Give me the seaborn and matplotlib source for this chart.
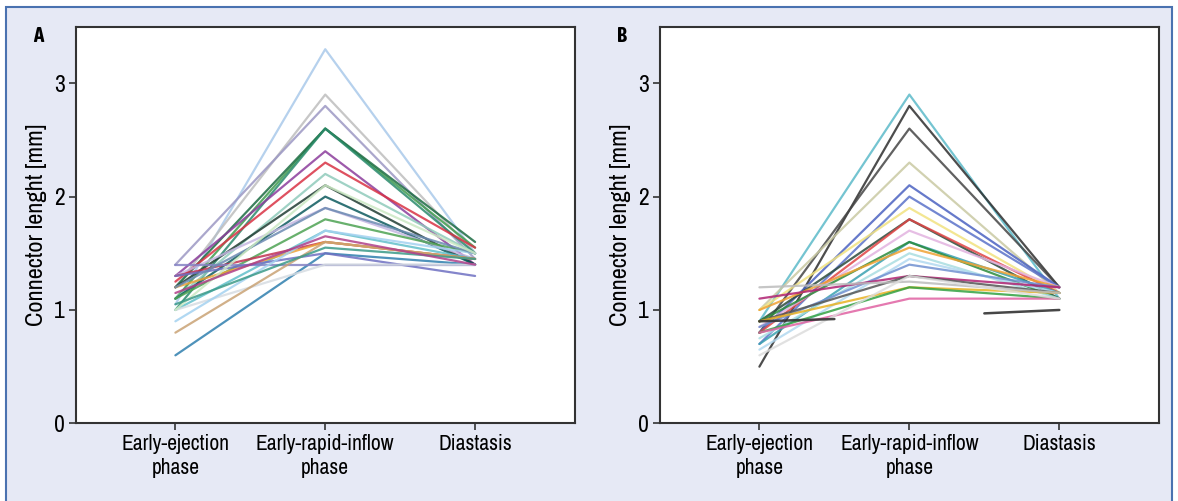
import matplotlib
matplotlib.use("Agg")
import matplotlib.pyplot as plt
from matplotlib import font_manager
from matplotlib.patches import Rectangle
import seaborn as sns
import pandas as pd

sns.set_theme(style="white")
fonts = font_manager.fontManager.ttflist
narrow = sorted({f.name for f in fonts if "Narrow" in f.name or "Condensed" in f.name})
base = narrow[0] if narrow else "Roboto"
bold_narrow = [n for n in narrow
               if any(f.name == n and f.weight in (600, 700, 800, "bold") for f in fonts)]
letter_font = bold_narrow[0] if bold_narrow else "DejaVu Sans"
plt.rcParams['font.family'] = [base, 'DejaVu Sans']

phases = ["Early-ejection\nphase", "Early-rapid-inflow\nphase", "Diastasis"]
phase_x = [0, 1, 2]

# panel A: one row per connector, values at the three phases
a_early = [1.05, 1.2, 1.4, 1.1, 1.2, 1.0, 1.3, 1.25, 1.1, 1.2, 1.1, 1.3, 1.1, 1.0,
           1.3, 1.2, 0.6, 1.4, 1.3, 1.0, 0.8, 0.9, 1.2, 1.0, 1.05, 1.15]
a_inflow = [3.3, 2.9, 2.8, 2.6, 2.6, 2.6, 2.4, 2.3, 2.2, 2.1, 2.0, 1.9, 1.8, 1.7,
            1.6, 1.6, 1.5, 1.4, 1.5, 1.4, 1.6, 1.7, 1.9, 2.1, 1.55, 1.65]
a_diast = [1.5, 1.5, 1.45, 1.55, 1.6, 1.5, 1.4, 1.55, 1.5, 1.4, 1.4, 1.45, 1.5, 1.45,
           1.45, 1.45, 1.4, 1.4, 1.3, 1.4, 1.45, 1.5, 1.5, 1.5, 1.45, 1.4]
a_colors = ["#a9c9ea", "#bdbdbd", "#9c98c4", "#3f9c4e", "#1b6b42", "#2a8a6c",
            "#8c3d9c", "#d93244", "#8fcbbb", "#203c32", "#0d5b5e", "#c5b6e2",
            "#4da353", "#62c0ca", "#c23252", "#eba237", "#2f7fae", "#8583c4",
            "#6f70c2", "#d6dce2", "#c9a274", "#a4d2f0", "#6c8bb2", "#cbe8c3",
            "#3b9a88", "#b0408a"]

# panel B
b_early = [0.9, 0.5, 0.8, 1.0, 0.8, 0.7, 1.0, 0.9, 0.8, 0.85, 0.7, 0.9, 1.0, 0.75,
           0.65, 0.85, 1.1, 0.9, 0.9, 0.8, 0.8, 1.2, 0.6]
b_inflow = [2.9, 2.8, 2.6, 2.3, 2.1, 2.0, 1.9, 1.8, 1.8, 1.7, 1.6, 1.6, 1.55, 1.5,
            1.45, 1.4, 1.3, 1.3, 1.2, 1.2, 1.1, 1.25, 1.3]
b_diast = [1.1, 1.2, 1.2, 1.15, 1.2, 1.2, 1.15, 1.1, 1.15, 1.2, 1.15, 1.1, 1.2, 1.1,
           1.15, 1.2, 1.2, 1.15, 1.15, 1.1, 1.1, 1.15, 1.1]
b_colors = ["#5cbac9", "#2e2e2e", "#454545", "#c9c9a3", "#4b62c1", "#5b72c9",
            "#f1e27f", "#2b4a3b", "#e04444", "#e2b3e0", "#3aa1b1", "#2a8b3b",
            "#f0a232", "#a9dde1", "#b2d9f0", "#7191d1", "#b02272", "#555555",
            "#e8b222", "#33a243", "#e062a2", "#bcbcbc", "#dcdcdc"]
# short dark fragments in panel B
b_frag_x = [[0, 0.5], [1.5, 2]]
b_frag_y = [[0.9, 0.92], [0.97, 1.0]]
b_frag_color = "#333333"


def long_table(early, inflow, diast):
    rows = []
    for i, vals in enumerate(zip(early, inflow, diast)):
        for x, v in zip(phase_x, vals):
            rows.append({"line": i, "x": x, "y": v})
    return pd.DataFrame(rows)


fig = plt.figure(figsize=(11.78, 5.01), dpi=100, facecolor="white")
fig.patches.append(Rectangle((0.005, -0.02), 0.99, 1.006, transform=fig.transFigure,
                             facecolor="#e6e9f5", edgecolor="#4a72b0", linewidth=1.5,
                             zorder=-10))

ax_a = fig.add_axes([0.0643, 0.155, 0.4236, 0.792])
ax_b = fig.add_axes([0.560, 0.155, 0.4239, 0.792])

df_a = long_table(a_early, a_inflow, a_diast)
sns.lineplot(data=df_a, x="x", y="y", hue="line", palette=a_colors, estimator=None,
             linewidth=1.6, alpha=0.85, legend=False, ax=ax_a)

df_b = long_table(b_early, b_inflow, b_diast)
sns.lineplot(data=df_b, x="x", y="y", hue="line", palette=b_colors, estimator=None,
             linewidth=1.6, alpha=0.85, legend=False, ax=ax_b)
for fx, fy in zip(b_frag_x, b_frag_y):
    sns.lineplot(x=fx, y=fy, color=b_frag_color, linewidth=1.8, alpha=0.9, ax=ax_b)

for ax, letter in [(ax_a, "A"), (ax_b, "B")]:
    ax.set_facecolor("white")
    ax.set_xlim(-0.665, 2.665)
    ax.set_ylim(0, 3.5)
    ax.set_xticks(phase_x)
    ax.set_xticklabels(phases, fontsize=15.5, linespacing=1.25, color="black")
    ax.set_yticks([0, 1, 2, 3])
    ax.set_yticklabels(["0", "1", "2", "3"], fontsize=17, color="black")
    ax.set_xlabel("")
    ax.set_ylabel("Connector lenght [mm]", fontsize=17.5, labelpad=5, color="black")
    ax.tick_params(axis="both", direction="out", length=5, width=1.2, color="#333333",
                   bottom=True, left=True, pad=3)
    for s in ax.spines.values():
        s.set_color("#333333")
        s.set_linewidth(1.5)
    ax.text(-0.075, 0.975, letter, transform=ax.transAxes, fontsize=15,
            fontweight="bold", family=[letter_font, "DejaVu Sans"],
            ha="center", va="center", color="black")

fig.savefig("out.png", dpi=100)
